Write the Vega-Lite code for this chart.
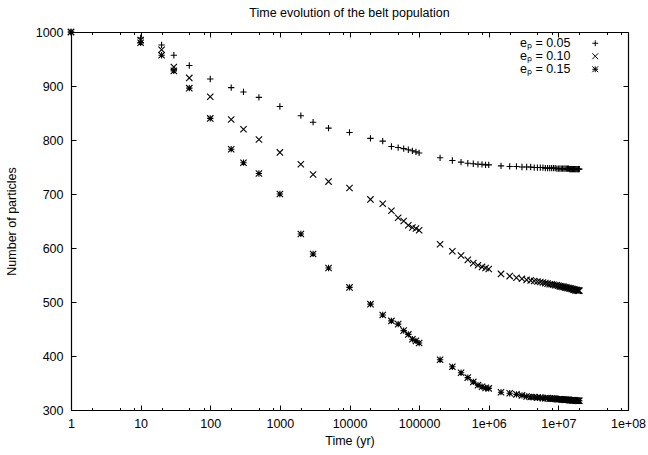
{
  "$schema": "https://vega.github.io/schema/vega-lite/v6.json",
  "width": 557,
  "height": 378,
  "autosize": "none",
  "padding": {"left": 71, "top": 32, "right": 20, "bottom": 45},
  "background": "white",
  "title": {"text": "Time evolution of the belt population", "fontSize": 12.5, "font": "Liberation Sans", "fontWeight": "normal", "color": "black", "anchor": "middle", "offset": 7},
  "data": {"values": [
    {"t": 1, "a": 1000, "b": 1000, "c": 1000},
    {"t": 10, "a": 989, "b": 985, "c": 980},
    {"t": 20, "a": 976, "b": 967, "c": 957},
    {"t": 30, "a": 957, "b": 935, "c": 928},
    {"t": 50, "a": 938, "b": 915, "c": 896},
    {"t": 100, "a": 913, "b": 880, "c": 840},
    {"t": 200, "a": 897, "b": 838, "c": 783},
    {"t": 300, "a": 889, "b": 820, "c": 758},
    {"t": 500, "a": 879, "b": 801, "c": 738},
    {"t": 1000, "a": 862, "b": 777, "c": 700},
    {"t": 2000, "a": 845, "b": 755, "c": 626},
    {"t": 3000, "a": 833, "b": 736, "c": 589},
    {"t": 5000, "a": 822, "b": 723, "c": 563},
    {"t": 10000, "a": 814, "b": 711, "c": 527},
    {"t": 20000, "a": 803, "b": 690, "c": 496},
    {"t": 30000, "a": 798, "b": 682, "c": 476},
    {"t": 40000, "a": 788, "b": 669, "c": 465},
    {"t": 50000, "a": 786, "b": 656, "c": 459},
    {"t": 60000, "a": 784, "b": 650, "c": 447},
    {"t": 70000, "a": 782, "b": 642, "c": 440},
    {"t": 80000, "a": 780, "b": 638, "c": 431},
    {"t": 90000, "a": 778, "b": 636, "c": 428},
    {"t": 100000, "a": 776, "b": 633, "c": 424},
    {"t": 200000, "a": 767, "b": 607, "c": 393},
    {"t": 300000, "a": 762, "b": 594, "c": 380},
    {"t": 400000, "a": 759, "b": 586, "c": 369},
    {"t": 500000, "a": 757, "b": 578, "c": 360},
    {"t": 600000, "a": 756, "b": 572, "c": 352},
    {"t": 700000, "a": 755, "b": 568, "c": 346},
    {"t": 800000, "a": 755, "b": 565, "c": 343},
    {"t": 900000, "a": 754, "b": 563, "c": 341},
    {"t": 1000000, "a": 754, "b": 561, "c": 340},
    {"t": 1500000, "a": 752, "b": 552, "c": 333},
    {"t": 2000000, "a": 751, "b": 548, "c": 331},
    {"t": 2500000, "a": 751, "b": 545, "c": 329},
    {"t": 3000000, "a": 750, "b": 543, "c": 327},
    {"t": 3500000, "a": 750, "b": 541, "c": 325},
    {"t": 4000000, "a": 750, "b": 540, "c": 324},
    {"t": 4500000, "a": 749, "b": 539, "c": 324},
    {"t": 5000000, "a": 749, "b": 538, "c": 323},
    {"t": 5500000, "a": 749, "b": 537, "c": 323},
    {"t": 6000000, "a": 749, "b": 536, "c": 322},
    {"t": 6500000, "a": 748, "b": 535, "c": 322},
    {"t": 7000000, "a": 748, "b": 534, "c": 322},
    {"t": 7500000, "a": 748, "b": 533, "c": 321},
    {"t": 8000000, "a": 748, "b": 533, "c": 321},
    {"t": 8500000, "a": 748, "b": 532, "c": 321},
    {"t": 9000000, "a": 748, "b": 531, "c": 321},
    {"t": 9500000, "a": 747, "b": 531, "c": 320},
    {"t": 10000000, "a": 747, "b": 530, "c": 320},
    {"t": 10500000, "a": 747, "b": 529, "c": 320},
    {"t": 11000000, "a": 747, "b": 529, "c": 320},
    {"t": 11500000, "a": 747, "b": 528, "c": 319},
    {"t": 12000000, "a": 747, "b": 528, "c": 319},
    {"t": 12500000, "a": 747, "b": 527, "c": 319},
    {"t": 13000000, "a": 747, "b": 527, "c": 319},
    {"t": 13500000, "a": 747, "b": 526, "c": 319},
    {"t": 14000000, "a": 747, "b": 526, "c": 319},
    {"t": 14500000, "a": 746, "b": 525, "c": 318},
    {"t": 15000000, "a": 746, "b": 525, "c": 318},
    {"t": 15500000, "a": 746, "b": 524, "c": 318},
    {"t": 16000000, "a": 746, "b": 524, "c": 318},
    {"t": 16500000, "a": 746, "b": 523, "c": 318},
    {"t": 17000000, "a": 746, "b": 523, "c": 318},
    {"t": 17500000, "a": 746, "b": 522, "c": 318},
    {"t": 18000000, "a": 746, "b": 522, "c": 317},
    {"t": 18500000, "a": 746, "b": 522, "c": 317},
    {"t": 19000000, "a": 746, "b": 521, "c": 317},
    {"t": 19500000, "a": 746, "b": 521, "c": 317},
    {"t": 20000000, "a": 746, "b": 521, "c": 317}
  ]},
  "transform": [{"fold": ["a", "b", "c"], "as": ["k", "n"]}],
  "layer": [
    {
      "mark": {"type": "point", "filled": false, "color": "black", "strokeWidth": 1.1, "size": 40, "opacity": 1},
      "encoding": {
        "x": {"field": "t", "type": "quantitative",
          "scale": {"type": "log", "domain": [1, 100000000], "nice": false},
          "axis": {"orient": "bottom", "values": [1, 10, 100, 1000, 10000, 100000, 1000000, 10000000, 100000000],
            "tickSize": -5, "labelPadding": 12, "title": "Time (yr)", "titlePadding": 5,
            "labelExpr": "datum.value >= 1000000 ? '1e+0' + format(log(datum.value)/LN10, '.0f') : format(datum.value, 'd')"}},
        "y": {"field": "n", "type": "quantitative",
          "scale": {"domain": [300, 1000], "nice": false, "zero": false},
          "axis": {"orient": "left", "values": [300, 400, 500, 600, 700, 800, 900, 1000], "format": "d",
            "tickSize": -5, "labelPadding": 13, "title": "Number of particles", "titlePadding": 17}},
        "shape": {"field": "k", "type": "nominal",
          "scale": {"domain": ["a", "b", "c"], "range": ["M-1,0L1,0M0,-1L0,1", "M-1,-1L1,1M-1,1L1,-1", "M-1,0L1,0M0,-1L0,1M-1,-1L1,1M-1,1L1,-1"]},
          "legend": {"orient": "none", "legendX": 518, "legendY": 5, "title": null, "padding": 0,
            "labelAlign": "right", "labelOffset": -31, "rowPadding": -3, "symbolSize": 34,
            "labelExpr": "datum.label == 'a' ? 'eₚ = 0.05' : datum.label == 'b' ? 'eₚ = 0.10' : 'eₚ = 0.15'"}}
      }
    },
    {
      "mark": {"type": "point", "opacity": 0},
      "encoding": {
        "x": {"field": "t", "type": "quantitative",
          "axis": {"orient": "top", "values": [1, 10, 100, 1000, 10000, 100000, 1000000, 10000000, 100000000],
            "tickSize": -5, "labels": false, "title": null}},
        "y": {"field": "n", "type": "quantitative",
          "axis": {"orient": "right", "values": [300, 400, 500, 600, 700, 800, 900, 1000],
            "tickSize": -5, "labels": false, "title": null}}
      }
    },
    {
      "mark": {"type": "point", "opacity": 0},
      "encoding": {
        "x": {"field": "t", "type": "quantitative",
          "axis": {"orient": "bottom", "values": [2, 5, 8, 20, 50, 80, 200, 500, 800, 2000, 5000, 8000, 20000, 50000, 80000, 200000, 500000, 800000, 2000000, 5000000, 8000000, 20000000, 50000000, 80000000],
            "tickSize": -2.5, "labels": false, "title": null, "domain": false}},
        "y": {"field": "n", "type": "quantitative", "axis": null}
      }
    },
    {
      "mark": {"type": "point", "opacity": 0},
      "encoding": {
        "x": {"field": "t", "type": "quantitative",
          "axis": {"orient": "top", "values": [2, 5, 8, 20, 50, 80, 200, 500, 800, 2000, 5000, 8000, 20000, 50000, 80000, 200000, 500000, 800000, 2000000, 5000000, 8000000, 20000000, 50000000, 80000000],
            "tickSize": -2.5, "labels": false, "title": null, "domain": false}},
        "y": {"field": "n", "type": "quantitative", "axis": null}
      }
    }
  ],
  "resolve": {"axis": {"x": "independent", "y": "independent"}},
  "config": {
    "font": "Liberation Sans",
    "view": {"stroke": null},
    "axis": {"grid": false, "domainColor": "black", "domainWidth": 1.2, "tickColor": "black", "tickWidth": 1,
      "labelColor": "black", "labelFont": "Liberation Sans", "labelFontSize": 12.5, "labelFlush": false, "labelOverlap": false, "labelBound": false,
      "titleColor": "black", "titleFont": "Liberation Sans", "titleFontSize": 12.5, "titleFontWeight": "normal"},
    "legend": {"labelFont": "Liberation Sans", "labelFontSize": 12.5, "labelColor": "black", "symbolStrokeColor": "black", "symbolStrokeWidth": 1, "symbolSize": 40, "symbolFillColor": "transparent"}
  }
}
